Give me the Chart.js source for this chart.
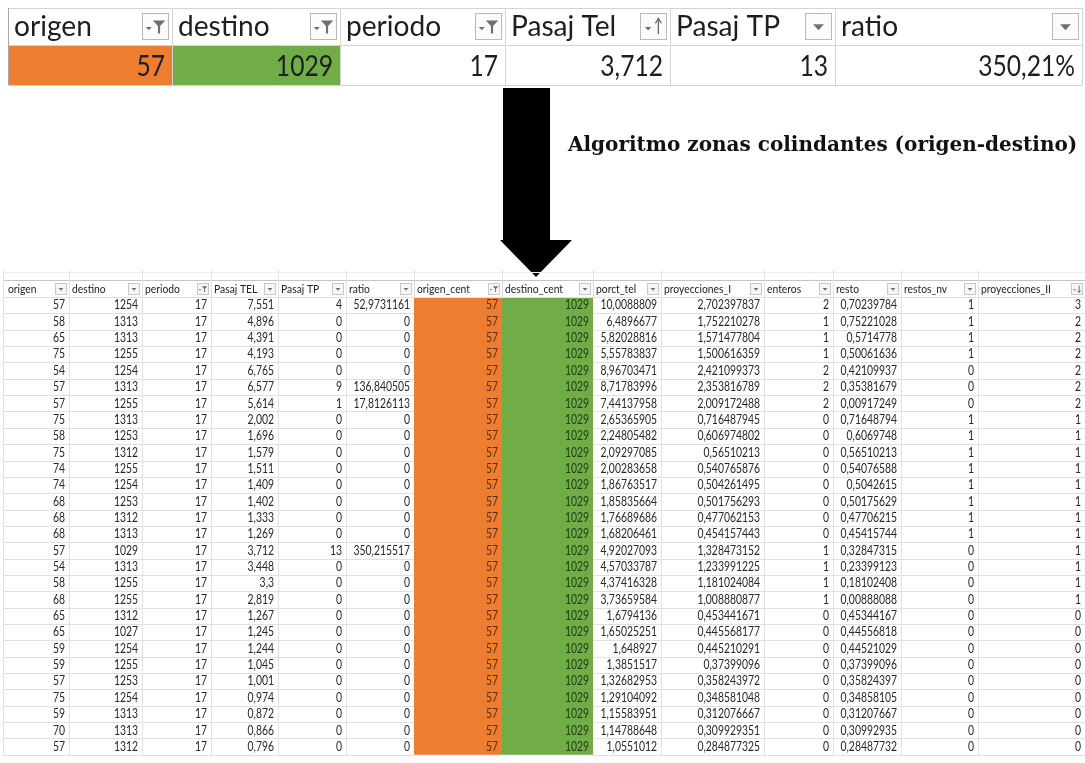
<!DOCTYPE html>
<html>
<head>
<meta charset="utf-8">
<script src="https://cdn.jsdelivr.net/npm/chart.js@4.4.1/dist/chart.umd.min.js"></script>
<style>
  html, body { margin: 0; padding: 0; background: #fff; }
  #wrap { width: 1085px; height: 763px; }
</style>
</head>
<body>
<div id="wrap"><canvas id="sheet" width="1085" height="763"></canvas></div>
<script>
// top (filtered) table
const topHeaders = ['origen', 'destino', 'periodo', 'Pasaj Tel', 'Pasaj TP', 'ratio'];
const topValues = ['57', '1029', '17', '3,712', '13', '350,21%'];
const topFilters = ['funnel', 'funnel', 'funnel', 'sortUp', 'drop', 'drop'];

const titleText = 'Algoritmo zonas colindantes (origen-destino)';

// bottom table
const headers = ['origen', 'destino', 'periodo', 'Pasaj TEL', 'Pasaj TP', 'ratio', 'origen_cent',
  'destino_cent', 'porct_tel', 'proyecciones_I', 'enteros', 'resto', 'restos_nv', 'proyecciones_II'];
const filters = ['drop', 'drop', 'funnel', 'drop', 'drop', 'drop', 'funnel',
  'drop', 'drop', 'drop', 'drop', 'drop', 'drop', 'sortDown'];

const origen = ['57','58','65','75','54','57','57','75','58','75','74','74','68','68',
  '68','57','54','58','68','65','65','59','59','57','75','59','70','57'];
const destino = ['1254','1313','1313','1255','1254','1313','1255','1313','1253','1312','1255','1254','1253','1312',
  '1313','1029','1313','1255','1255','1312','1027','1254','1255','1253','1254','1313','1313','1312'];
const periodo = ['17','17','17','17','17','17','17','17','17','17','17','17','17','17',
  '17','17','17','17','17','17','17','17','17','17','17','17','17','17'];
const pasajTel = ['7,551','4,896','4,391','4,193','6,765','6,577','5,614','2,002','1,696','1,579','1,511','1,409','1,402','1,333',
  '1,269','3,712','3,448','3,3','2,819','1,267','1,245','1,244','1,045','1,001','0,974','0,872','0,866','0,796'];
const pasajTP = ['4','0','0','0','0','9','1','0','0','0','0','0','0','0',
  '0','13','0','0','0','0','0','0','0','0','0','0','0','0'];
const ratio = ['52,9731161','0','0','0','0','136,840505','17,8126113','0','0','0','0','0','0','0',
  '0','350,215517','0','0','0','0','0','0','0','0','0','0','0','0'];
const origenCent = ['57','57','57','57','57','57','57','57','57','57','57','57','57','57',
  '57','57','57','57','57','57','57','57','57','57','57','57','57','57'];
const destinoCent = ['1029','1029','1029','1029','1029','1029','1029','1029','1029','1029','1029','1029','1029','1029',
  '1029','1029','1029','1029','1029','1029','1029','1029','1029','1029','1029','1029','1029','1029'];
const porctTel = ['10,0088809','6,4896677','5,82028816','5,55783837','8,96703471','8,71783996','7,44137958','2,65365905',
  '2,24805482','2,09297085','2,00283658','1,86763517','1,85835664','1,76689686','1,68206461','4,92027093',
  '4,57033787','4,37416328','3,73659584','1,6794136','1,65025251','1,648927','1,3851517','1,32682953',
  '1,29104092','1,15583951','1,14788648','1,0551012'];
const proyeccionesI = ['2,702397837','1,752210278','1,571477804','1,500616359','2,421099373','2,353816789','2,009172488',
  '0,716487945','0,606974802','0,56510213','0,540765876','0,504261495','0,501756293','0,477062153','0,454157443',
  '1,328473152','1,233991225','1,181024084','1,008880877','0,453441671','0,445568177','0,445210291','0,37399096',
  '0,358243972','0,348581048','0,312076667','0,309929351','0,284877325'];
const enteros = ['2','1','1','1','2','2','2','0','0','0','0','0','0','0',
  '0','1','1','1','1','0','0','0','0','0','0','0','0','0'];
const resto = ['0,70239784','0,75221028','0,5714778','0,50061636','0,42109937','0,35381679','0,00917249','0,71648794',
  '0,6069748','0,56510213','0,54076588','0,5042615','0,50175629','0,47706215','0,45415744','0,32847315',
  '0,23399123','0,18102408','0,00888088','0,45344167','0,44556818','0,44521029','0,37399096','0,35824397',
  '0,34858105','0,31207667','0,30992935','0,28487732'];
const restosNv = ['1','1','1','1','0','0','0','1','1','1','1','1','1','1',
  '1','0','0','0','0','0','0','0','0','0','0','0','0','0'];
const proyeccionesII = ['3','2','2','2','2','2','2','1','1','1','1','1','1','1',
  '1','1','1','1','1','0','0','0','0','0','0','0','0','0'];

const columns = [origen, destino, periodo, pasajTel, pasajTP, ratio, origenCent, destinoCent,
  porctTel, proyeccionesI, enteros, resto, restosNv, proyeccionesII];

// layout (scale units)
const topEdges = [8, 172, 340, 505, 670, 835, 1082];
const topRows = [8, 45, 85];
const edges = [3, 69, 142, 211, 278, 346, 414, 502, 593, 661, 764, 833, 901, 978, 1085];
const headTop = 280, headBottom = 297, rowH = 16.35;
const ORANGE = '#ED7D31', GREEN = '#70AD47';

function drawText(ctx, str, x, y, align, squeeze) {
  ctx.textAlign = align;
  const w = ctx.measureText(str).width;
  ctx.fillText(str, x, y, w * squeeze);
}

function line(ctx, x1, y1, x2, y2, color, w) {
  ctx.strokeStyle = color;
  ctx.lineWidth = w || 1;
  ctx.beginPath();
  ctx.moveTo(x1, y1);
  ctx.lineTo(x2, y2);
  ctx.stroke();
}

function drawButton(ctx, x, y, w, h, type, big) {
  ctx.fillStyle = big ? '#fbfbfb' : '#f6f6f6';
  ctx.fillRect(x, y, w, h);
  ctx.strokeStyle = big ? '#b9b9b9' : '#c9c9c9';
  ctx.lineWidth = 1;
  ctx.strokeRect(Math.round(x) + 0.5, Math.round(y) + 0.5, Math.round(w) - 1, Math.round(h) - 1);
  const cx = x + w / 2, cy = y + h / 2, s = Math.min(w, h);
  ctx.fillStyle = '#6f6f6f';
  ctx.strokeStyle = '#6f6f6f';
  if (type === 'drop') {
    ctx.beginPath();
    ctx.moveTo(cx - s * 0.2, cy - s * 0.08);
    ctx.lineTo(cx + s * 0.2, cy - s * 0.08);
    ctx.lineTo(cx, cy + s * 0.14);
    ctx.closePath();
    ctx.fill();
  } else if (type === 'funnel') {
    ctx.beginPath();
    ctx.moveTo(cx - s * 0.36, cy + s * 0.02);
    ctx.lineTo(cx - s * 0.14, cy + s * 0.02);
    ctx.lineTo(cx - s * 0.25, cy + s * 0.14);
    ctx.closePath();
    ctx.fill();
    ctx.beginPath();
    ctx.moveTo(cx - s * 0.1, cy - s * 0.22);
    ctx.lineTo(cx + s * 0.36, cy - s * 0.22);
    ctx.lineTo(cx + s * 0.17, cy - s * 0.02);
    ctx.lineTo(cx + s * 0.17, cy + s * 0.26);
    ctx.lineTo(cx + s * 0.09, cy + s * 0.26);
    ctx.lineTo(cx + s * 0.09, cy - s * 0.02);
    ctx.closePath();
    ctx.fill();
  } else {
    ctx.beginPath();
    ctx.moveTo(cx - s * 0.32, cy + s * 0.02);
    ctx.lineTo(cx - s * 0.08, cy + s * 0.02);
    ctx.lineTo(cx - s * 0.2, cy + s * 0.15);
    ctx.closePath();
    ctx.fill();
    const ax = cx + s * 0.18;
    line(ctx, ax, cy - s * 0.28, ax, cy + s * 0.28, '#6f6f6f', Math.max(1, s * 0.05));
    ctx.beginPath();
    if (type === 'sortUp') {
      ctx.moveTo(ax - s * 0.11, cy - s * 0.12);
      ctx.lineTo(ax, cy - s * 0.3);
      ctx.lineTo(ax + s * 0.11, cy - s * 0.12);
    } else {
      ctx.moveTo(ax - s * 0.11, cy + s * 0.12);
      ctx.lineTo(ax, cy + s * 0.3);
      ctx.lineTo(ax + s * 0.11, cy + s * 0.12);
    }
    ctx.stroke();
  }
}

const sheetPlugin = {
  id: 'sheetTables',
  afterDraw(chart) {
    const ctx = chart.ctx;
    const X = v => chart.scales.x.getPixelForValue(v);
    const Y = v => chart.scales.y.getPixelForValue(v);
    ctx.save();
    ctx.textBaseline = 'alphabetic';

    // ---- top table ----
    ctx.fillStyle = ORANGE;
    ctx.fillRect(X(topEdges[0]), Y(topRows[1]), X(topEdges[1]) - X(topEdges[0]), Y(topRows[2]) - Y(topRows[1]));
    ctx.fillStyle = GREEN;
    ctx.fillRect(X(topEdges[1]), Y(topRows[1]), X(topEdges[2]) - X(topEdges[1]), Y(topRows[2]) - Y(topRows[1]));
    topRows.forEach(r => line(ctx, X(topEdges[0]), Y(r) + 0.5, X(topEdges[6]), Y(r) + 0.5, '#d4d4d4'));
    topEdges.forEach((e, i) => line(ctx, X(e) + 0.5, Y(topRows[0]), X(e) + 0.5, Y(topRows[2]), i === 0 ? '#a8a8a8' : '#d4d4d4'));

    topHeaders.forEach((h, i) => {
      ctx.fillStyle = '#1e1e1e';
      ctx.font = '29px Lato';
      drawText(ctx, h, X(topEdges[i]) + 6, Y(36), 'left', 0.97);
      ctx.font = '28px Lato';
      drawText(ctx, topValues[i], X(topEdges[i + 1]) - 7, Y(76), 'right', 0.88);
      drawButton(ctx, X(topEdges[i + 1]) - 30, Y(13), 27, 27, topFilters[i], true);
    });

    // ---- arrow ----
    ctx.fillStyle = '#000';
    ctx.beginPath();
    ctx.moveTo(X(503), Y(88));
    ctx.lineTo(X(550), Y(88));
    ctx.lineTo(X(550), Y(240));
    ctx.lineTo(X(572), Y(240));
    ctx.lineTo(X(536), Y(277));
    ctx.lineTo(X(500), Y(240));
    ctx.lineTo(X(503), Y(240));
    ctx.closePath();
    ctx.fill();

    // ---- title ----
    let fs = 20;
    ctx.font = 'bold ' + fs + 'px "DejaVu Serif"';
    const tw = ctx.measureText(titleText).width;
    fs = fs * (X(1078) - X(568)) / tw;
    ctx.font = 'bold ' + fs.toFixed(1) + 'px "DejaVu Serif"';
    ctx.fillStyle = '#111';
    ctx.textAlign = 'left';
    ctx.fillText(titleText, X(568), Y(151));

    // ---- bottom table ----
    const n = origen.length;
    const rowTop = i => headBottom + i * rowH;
    line(ctx, X(edges[0]), Y(272) + 0.5, X(edges[14]), Y(272) + 0.5, '#ececec');
    edges.forEach(e => line(ctx, X(e) + 0.5, Y(270), X(e) + 0.5, Y(headTop), '#e2e2e2'));
    line(ctx, X(edges[0]), Y(headTop) + 0.5, X(edges[14]), Y(headTop) + 0.5, '#c4c4c4');

    // coloured columns
    ctx.fillStyle = ORANGE;
    ctx.fillRect(X(edges[6]), Y(rowTop(0)), X(edges[7]) - X(edges[6]), Y(rowTop(n)) - Y(rowTop(0)));
    ctx.fillStyle = GREEN;
    ctx.fillRect(X(edges[7]), Y(rowTop(0)), X(edges[8]) - X(edges[7]), Y(rowTop(n)) - Y(rowTop(0)));

    // grid
    for (let i = 0; i <= n; i++) {
      const y = Math.round(Y(rowTop(i))) + 0.5;
      line(ctx, X(edges[0]), y, X(edges[6]), y, '#e0e0e0');
      line(ctx, X(edges[8]), y, X(edges[14]), y, '#e0e0e0');
    }
    line(ctx, X(edges[6]), Math.round(Y(headBottom)) + 0.5, X(edges[8]), Math.round(Y(headBottom)) + 0.5, '#e0e0e0');
    edges.forEach((e, k) => {
      if (k === 7) return;
      const col = (k === 6 || k === 8) ? '#d8d8d8' : '#e2e2e2';
      line(ctx, Math.round(X(e)) + 0.5, Y(headTop), Math.round(X(e)) + 0.5, k === 6 || k === 8 ? Y(headBottom) : Y(rowTop(n)), col);
    });
    line(ctx, Math.round(X(edges[7])) + 0.5, Y(headTop), Math.round(X(edges[7])) + 0.5, Y(headBottom), '#d8d8d8');

    // header texts and buttons
    ctx.font = '12px Lato';
    headers.forEach((h, k) => {
      ctx.fillStyle = '#222';
      drawText(ctx, h, X(edges[k]) + (k === 0 ? 5 : 3), Y(292.5), 'left', 0.86);
      drawButton(ctx, X(edges[k + 1]) - 14, Y(283), 12, 12, filters[k], false);
    });

    // data cells
    ctx.font = '12.5px Lato';
    columns.forEach((col, k) => {
      ctx.fillStyle = k === 6 ? '#5e2a08' : (k === 7 ? '#1f3a10' : '#262626');
      col.forEach((v, i) => {
        drawText(ctx, v, X(edges[k + 1]) - 4, Y(rowTop(i) + 12.4), 'right', 0.83);
      });
    });

    ctx.restore();
  }
};

new Chart(document.getElementById('sheet').getContext('2d'), {
  type: 'scatter',
  data: { datasets: [{ data: [], pointRadius: 0 }] },
  options: {
    responsive: false,
    animation: false,
    events: [],
    layout: { padding: 0 },
    scales: {
      x: { type: 'linear', min: 0, max: 1085, display: false },
      y: { type: 'linear', min: 0, max: 763, reverse: true, display: false }
    },
    plugins: {
      legend: { display: false },
      tooltip: { enabled: false },
      title: { display: false }
    }
  },
  plugins: [sheetPlugin]
});
</script>
</body>
</html>
